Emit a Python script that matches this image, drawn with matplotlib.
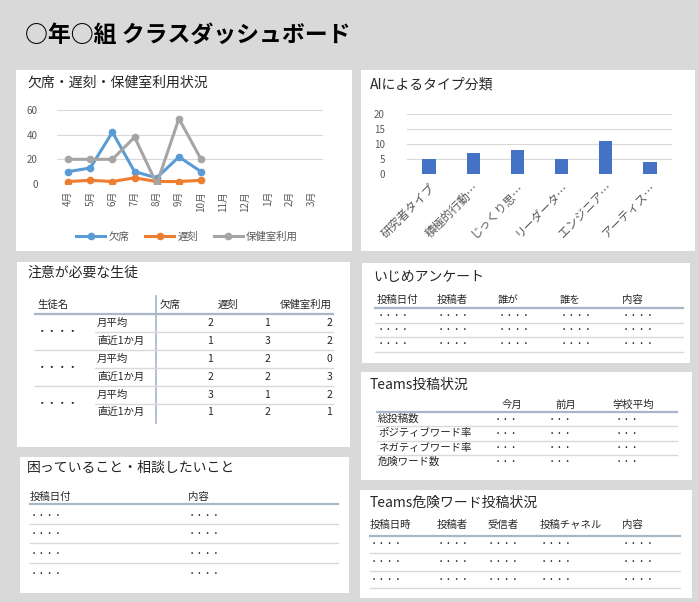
import matplotlib.pyplot as plt
from matplotlib.patches import Rectangle

plt.rcParams["font.family"] = ["Noto Sans CJK JP", "DejaVu Sans"]
plt.rcParams["axes.unicode_minus"] = False

# 欠席・遅刻・保健室利用状況
months = ["4月", "5月", "6月", "7月", "8月", "9月", "10月", "11月", "12月", "1月", "2月", "3月"]
absent = [10, 13, 42, 10, 5, 22, 10]
late = [2, 3, 2, 5, 2, 2, 3]
nurse = [20, 20, 20, 38, 0, 53, 20]

# AIによるタイプ分類
types = ["研究者タイプ", "積極的行動…", "じっくり思…", "リーダータ…", "エンジニア…", "アーティス…"]
type_counts = [5, 7, 8, 5, 11, 4]

# 注意が必要な生徒
students = ["・・・・", "・・・・", "・・・・"]
periods = ["月平均", "直近1か月"]
watch_cols = ["欠席", "遅刻", "保健室利用"]
watch_values = [[2, 1, 2], [1, 3, 2], [1, 2, 0], [2, 2, 3], [3, 1, 2], [1, 2, 1]]

bully_cols = ["投稿日付", "投稿者", "誰が", "誰を", "内容"]
teams_cols = ["今月", "前月", "学校平均"]
teams_rows = ["総投稿数", "ポジティブワード率", "ネガティブワード率", "危険ワード数"]
consult_cols = ["投稿日付", "内容"]
danger_cols = ["投稿日時", "投稿者", "受信者", "投稿チャネル", "内容"]
dots4 = "・・・・"
dots3 = "・・・"

W, H = 699, 602
TXT = "#262626"
HEAD_LINE = "#a9b6c8"
ROW_LINE = "#d9d9d9"

fig = plt.figure(figsize=(W / 100, H / 100), dpi=100, facecolor="#d9d9d9")
bg = fig.add_axes([0, 0, 1, 1])
bg.set_xlim(0, W)
bg.set_ylim(H, 0)
bg.axis("off")


def panel(x0, y0, x1, y1, title, tx, ty):
    bg.add_patch(Rectangle((x0, y0), x1 - x0, y1 - y0, color="white", lw=0))
    bg.text(tx, ty, title, fontsize=10, color=TXT, va="center", ha="left")


def hline(y, x0, x1, head=False):
    bg.plot([x0, x1], [y, y], color=HEAD_LINE if head else ROW_LINE,
            lw=1.6 if head else 1.0)


def px_axes(x0, y0, x1, y1):
    return fig.add_axes([x0 / W, 1 - y1 / H, (x1 - x0) / W, (y1 - y0) / H])


bg.text(25, 35, "○年○組 クラスダッシュボード", fontsize=16.5, fontweight="bold",
        color="black", va="center")

panel(16, 70, 352, 251, "欠席・遅刻・保健室利用状況", 27, 83)
panel(361, 70, 695, 251, "AIによるタイプ分類", 370, 84)
panel(17, 262, 350, 447, "注意が必要な生徒", 27, 273)
panel(362, 263, 690, 363, "いじめアンケート", 373, 277)
panel(361, 372, 692, 480, "Teams投稿状況", 370, 385)
panel(20, 457, 349, 593, "困っていること・相談したいこと", 27, 468)
panel(360, 490, 692, 598, "Teams危険ワード投稿状況", 370, 503)

# line chart
ax = px_axes(57, 110, 323, 184)
ax.set_facecolor("none")
series = [("欠席", absent, "#5b9bd5"), ("遅刻", late, "#ed7d31"), ("保健室利用", nurse, "#a5a5a5")]
for name, vals, col in series:
    ax.plot(range(len(vals)), vals, color=col, lw=2.2, marker="o", ms=4.5, label=name)
ax.set_xlim(-0.5, len(months) - 0.5)
ax.set_ylim(0, 60)
ax.set_yticks([0, 20, 40, 60])
ax.set_xticks(range(len(months)))
ax.set_xticklabels(months, rotation=90)
ax.tick_params(length=0, labelsize=7, colors="#595959")
ax.tick_params(axis="y", pad=14)
ax.tick_params(axis="x", pad=5)
ax.grid(axis="y", color="#d9d9d9", lw=0.8)
ax.set_axisbelow(True)
for s in ax.spines.values():
    s.set_visible(False)
ax.legend(loc="center", bbox_to_anchor=(187 / W, 1 - 237 / H), bbox_transform=fig.transFigure,
          ncol=3, frameon=False, fontsize=7.5, handlelength=2.8, columnspacing=1.5,
          labelcolor="#595959", handletextpad=0.3)

# bar chart
bx = px_axes(407, 114, 672, 174)
bx.set_facecolor("none")
bx.bar(range(len(types)), type_counts, width=0.3, color="#4472c4")
bx.set_xlim(-0.5, len(types) - 0.5)
bx.set_ylim(0, 20)
bx.set_yticks([0, 5, 10, 15, 20])
bx.set_xticks(range(len(types)))
bx.set_xticklabels(types, rotation=45, ha="right", rotation_mode="anchor")
bx.tick_params(length=0, labelsize=7, colors="#595959")
bx.tick_params(axis="y", pad=16)
bx.tick_params(axis="x", labelsize=8.5, pad=5)
bx.grid(axis="y", color="#d9d9d9", lw=0.8)
bx.set_axisbelow(True)
for s in bx.spines.values():
    s.set_visible(False)

# 注意が必要な生徒
fs = 7.5
bg.text(37, 305, "生徒名", fontsize=fs, color=TXT, va="center")
bg.text(160, 305, watch_cols[0], fontsize=fs, color=TXT, va="center")
bg.text(228, 305, watch_cols[1], fontsize=fs, color=TXT, va="center", ha="center")
bg.text(332, 305, watch_cols[2], fontsize=fs, color=TXT, va="center", ha="right")
hline(314, 35, 333, head=True)
bg.plot([156, 156], [296, 423], color=HEAD_LINE, lw=1.2)
row_y = [323, 341, 359, 377, 395, 412]
col_x = [213, 270, 332]
for i, vals in enumerate(watch_values):
    y = row_y[i]
    bg.text(97, y, periods[i % 2], fontsize=fs, color=TXT, va="center")
    for x, v in zip(col_x, vals):
        bg.text(x, y, str(v), fontsize=fs, color=TXT, va="center", ha="right")
for k, name in enumerate(students):
    bg.text(37, (row_y[2 * k] + row_y[2 * k + 1]) / 2, name, fontsize=fs, color=TXT, va="center")
for k in range(1, len(students)):
    hline((row_y[2 * k - 1] + row_y[2 * k]) / 2, 35, 333)
for k in range(len(students)):
    hline((row_y[2 * k] + row_y[2 * k + 1]) / 2, 95, 333)

# いじめアンケート
bully_x = [377, 437, 498, 560, 622]
for x, c in zip(bully_x, bully_cols):
    bg.text(x, 300, c, fontsize=fs, color=TXT, va="center")
hline(308, 375, 683, head=True)
for y in [315, 330, 344]:
    for x in bully_x:
        bg.text(x, y, dots4, fontsize=6, color=TXT, va="center")
for y in [323, 337, 352]:
    hline(y, 375, 683)

# Teams投稿状況
teams_x = [512, 566, 633]
for x, c in zip(teams_x, teams_cols):
    bg.text(x, 405, c, fontsize=fs, color=TXT, va="center", ha="center")
hline(412, 377, 677, head=True)
teams_y = [419, 433, 448, 462]
for y, r in zip(teams_y, teams_rows):
    bg.text(378, y, r, fontsize=fs, color=TXT, va="center")
    for x in teams_x:
        bg.text(x - 6, y, dots3, fontsize=6, color=TXT, va="center", ha="center")
for y in [426, 441, 455]:
    hline(y, 377, 677)

# 困っていること・相談したいこと
consult_x = [30, 188]
for x, c in zip(consult_x, consult_cols):
    bg.text(x, 497, c, fontsize=fs, color=TXT, va="center")
hline(504, 30, 338, head=True)
for y in [515, 534, 554, 573]:
    for x in consult_x:
        bg.text(x, y, dots4, fontsize=6, color=TXT, va="center")
for y in [524, 543, 563]:
    hline(y, 30, 338)

# Teams危険ワード投稿状況
danger_x = [370, 437, 487, 540, 622]
for x, c in zip(danger_x, danger_cols):
    bg.text(x, 525, c, fontsize=fs, color=TXT, va="center")
hline(536, 370, 680, head=True)
for y in [543, 562, 579]:
    for x in danger_x:
        bg.text(x, y, dots4, fontsize=6, color=TXT, va="center")
for y in [553, 571, 588]:
    hline(y, 370, 680)

fig.savefig("out.png", dpi=100, facecolor=fig.get_facecolor())
